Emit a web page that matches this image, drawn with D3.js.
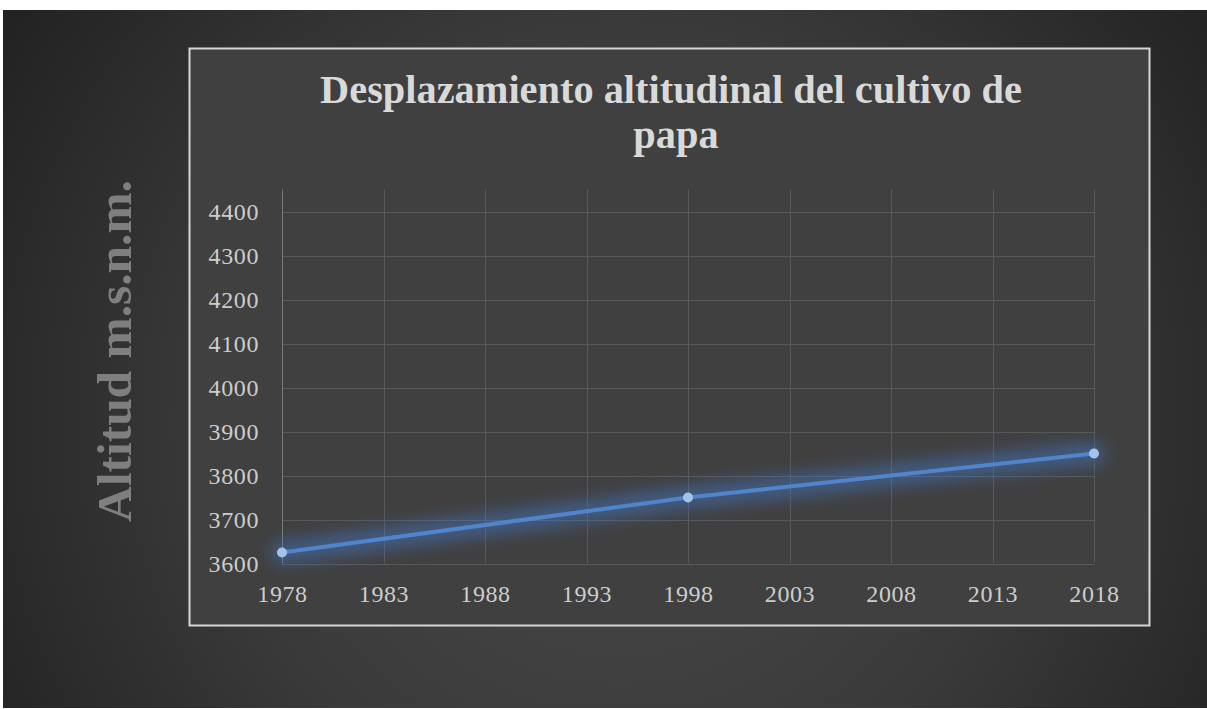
<!DOCTYPE html>
<html>
<head>
<meta charset="utf-8">
<script src="https://cdn.jsdelivr.net/npm/d3@7"></script>
<style>
  html, body { margin: 0; padding: 0; background: #ffffff; }
  svg { display: block; }
</style>
</head>
<body>
<svg id="chart" width="1207" height="709"></svg>
<script>
// Altitude of potato cultivation by year
const years = [1978, 1998, 2018];
const altitudes = [3625, 3750, 3850];
const xTicks = [1978, 1983, 1988, 1993, 1998, 2003, 2008, 2013, 2018];
const yTicks = [3600, 3700, 3800, 3900, 4000, 4100, 4200, 4300, 4400];
const titleLines = ["Desplazamiento altitudinal del cultivo de", "papa"];
const yAxisTitle = "Altitud m.s.n.m.";

const svg = d3.select("#chart");
const defs = svg.append("defs");

// Dark backdrop with a soft radial highlight
const rg = defs.append("radialGradient").attr("id", "bg")
  .attr("gradientUnits", "userSpaceOnUse")
  .attr("cx", 620).attr("cy", 420).attr("r", 720);
rg.append("stop").attr("offset", 0).attr("stop-color", "#4a4a4a");
rg.append("stop").attr("offset", 0.55).attr("stop-color", "#3a3a3a");
rg.append("stop").attr("offset", 1).attr("stop-color", "#232323");

const glow = defs.append("filter").attr("id", "glow")
  .attr("x", "-10%").attr("y", "-300%").attr("width", "120%").attr("height", "700%");
glow.append("feGaussianBlur").attr("stdDeviation", 8);

svg.append("rect").attr("x", 3).attr("y", 10).attr("width", 1204).attr("height", 698)
  .attr("fill", "url(#bg)");

// Chart frame
svg.append("rect").attr("x", 189.5).attr("y", 48.5).attr("width", 960).attr("height", 577)
  .attr("fill", "#404040").attr("stroke", "#d6d6d6").attr("stroke-width", 2);

const x = d3.scaleLinear().domain([1978, 2018]).range([282, 1094]);
const y = d3.scaleLinear().domain([3600, 4400]).range([563.5, 211.5]);
const yTop = 4450;

const serif = "'Liberation Serif', 'DejaVu Serif', serif";

// Gridlines
const grid = svg.append("g");
grid.selectAll("line.h").data(yTicks).join("line").attr("class", "h")
  .attr("x1", x(1978)).attr("x2", x(2018))
  .attr("y1", d => Math.round(y(d)) + 0.5).attr("y2", d => Math.round(y(d)) + 0.5)
  .attr("stroke", "#595959").attr("stroke-width", 1);
grid.selectAll("line.v").data(xTicks).join("line").attr("class", "v")
  .attr("x1", d => Math.round(x(d)) + 0.5).attr("x2", d => Math.round(x(d)) + 0.5)
  .attr("y1", y(yTop)).attr("y2", y(3600))
  .attr("stroke", d => d === 1978 ? "#7a7a7a" : "#595959").attr("stroke-width", 1);

// Axes labels
const yAxis = d3.axisLeft(y).tickValues(yTicks).tickSize(0).tickPadding(23).tickFormat(d3.format("d"));
const gy = svg.append("g").attr("transform", `translate(${x(1978)},0)`).call(yAxis);
gy.select(".domain").remove();
gy.selectAll("text").attr("font-family", serif).attr("font-size", 24)
  .attr("letter-spacing", 0.6)
  .attr("fill", "#cdcdcd").attr("dy", "0.34em");

const xAxis = d3.axisBottom(x).tickValues(xTicks).tickSize(0).tickPadding(21).tickFormat(d3.format("d"));
const gx = svg.append("g").attr("transform", `translate(0,${y(3600)})`).call(xAxis);
gx.select(".domain").remove();
gx.selectAll("text").attr("font-family", serif).attr("font-size", 24)
  .attr("letter-spacing", 0.6)
  .attr("fill", "#cdcdcd").attr("dy", "0.71em");

// Series line with glow
const pts = years.map((yr, i) => [yr, altitudes[i]]);
const line = d3.line().x(d => x(d[0])).y(d => y(d[1]));
svg.append("path").datum(pts).attr("d", line).attr("fill", "none")
  .attr("stroke", "#3f78cc").attr("stroke-width", 22).attr("stroke-opacity", 0.5)
  .attr("stroke-linecap", "round").attr("filter", "url(#glow)");
svg.append("path").datum(pts).attr("d", line).attr("fill", "none")
  .attr("stroke", "#5084cb").attr("stroke-width", 4).attr("stroke-linecap", "round");
svg.selectAll("circle.pt").data(pts).join("circle").attr("class", "pt")
  .attr("cx", d => x(d[0])).attr("cy", d => y(d[1])).attr("r", 5)
  .attr("fill", "#a3c2ea");

// Title
function fitText(sel, width) {
  const w = sel.node().getComputedTextLength();
  const fs = parseFloat(sel.attr("font-size"));
  sel.attr("font-size", fs * width / w);
}
const t1 = svg.append("text").attr("x", 671).attr("y", 103).attr("text-anchor", "middle")
  .attr("font-family", serif).attr("font-weight", "bold").attr("font-size", 38)
  .attr("fill", "#d9d9d9").text(titleLines[0]);
fitText(t1, 702);
svg.append("text").attr("x", 676).attr("y", 148).attr("text-anchor", "middle")
  .attr("font-family", serif).attr("font-weight", "bold").attr("font-size", t1.attr("font-size"))
  .attr("fill", "#d9d9d9").text(titleLines[1]);

// Vertical axis title
const yt = svg.append("text").attr("transform", "translate(131,351) rotate(-90)")
  .attr("text-anchor", "middle").attr("font-family", serif).attr("font-weight", "bold")
  .attr("font-size", 46).attr("fill", "#7f7f7f").text(yAxisTitle);
fitText(yt, 342);
</script>
</body>
</html>
